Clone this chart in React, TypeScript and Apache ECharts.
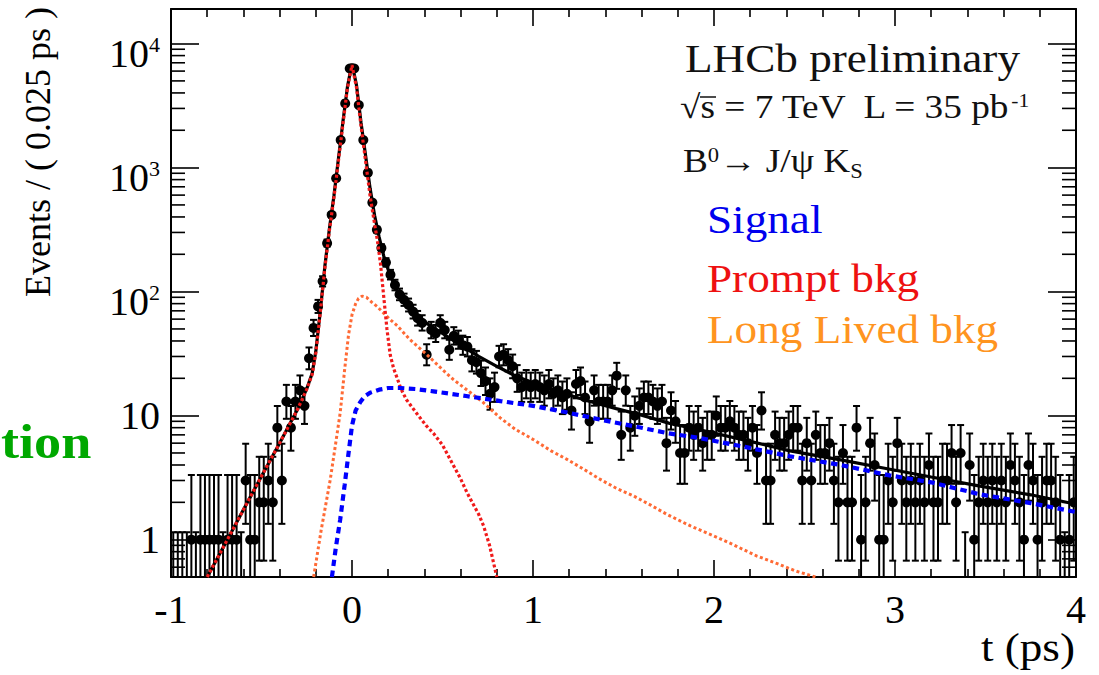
import React, { useEffect, useRef } from "react";
import * as echarts from "echarts";

// ---- data ----
const binStart = -1;
const binWidth = 0.025;
const counts = [
  0, 0, 0, 0, 1, 0, 1, 1, 1, 1, 1, 0, 1, 1, 1, 0, 3, 1, 1, 2,
  2, 3, 2, 8, 3, 13, 8, 13, 16, 12, 29, 51, 76, 121, 246, 416, 820, 1667, 3290, 6290,
  6290, 3190, 1667, 910, 522, 315, 225, 172, 137, 113, 95, 86, 78, 69, 61, 56, 31, 49, 46, 56,
  49, 34, 44, 41, 37, 36, 28, 27, 22, 19, 15, 17, 30, 31, 28, 25, 20, 17, 18, 17,
  18, 17, 16, 18, 15, 16, 14, 15, 11, 18, 19, 14, 9, 16, 13, 13, 13, 16, 21, 7,
  16, 8, 10, 12, 14, 14, 13, 12, 13, 6, 11, 9, 5, 5, 8, 7, 8, 6, 7, 7,
  10, 8, 8, 9, 8, 7, 7, 6, 8, 5, 11, 3, 3, 7, 6, 6, 7, 8, 8, 3,
  6, 3, 7, 5, 5, 6, 3, 2, 5, 2, 2, 8, 1, 2, 6, 4, 1, 1, 3, 2,
  6, 3, 2, 3, 2, 3, 2, 4, 2, 2, 3, 3, 5, 2, 5, 0, 4, 1, 2, 3,
  2, 3, 2, 3, 2, 4, 3, 2, 1, 4, 3, 1, 2, 3, 3, 2, 1, 0, 1, 2,
];

const totalFit: [number, number][] = [
  [-0.8, 0.5], [-0.7, 0.93], [-0.6, 1.74], [-0.5, 3.25], [-0.4, 6.0], [-0.3, 11.3],
  [-0.25, 16.5], [-0.22, 22], [-0.2, 33], [-0.175, 70], [-0.15, 160], [-0.125, 320],
  [-0.1, 590], [-0.075, 1180], [-0.05, 2350], [-0.025, 4500], [0, 6900], [0.025, 4600],
  [0.05, 2300], [0.075, 1250], [0.1, 680], [0.125, 410], [0.15, 275], [0.175, 195],
  [0.2, 150], [0.225, 121], [0.25, 101], [0.3, 78], [0.4, 57], [0.5, 46], [0.6, 37],
  [0.7, 30], [0.8, 25], [0.9, 21], [1.0, 18.4], [1.13, 15.8], [1.3, 13.2], [1.46, 11.4],
  [1.6, 10.1], [1.75, 8.7], [1.92, 7.7], [2.2, 6.2], [2.42, 5.2], [2.7, 4.4], [2.95, 3.75],
  [3.2, 3.2], [3.47, 2.7], [3.75, 2.3], [4.0, 1.93],
];

const promptBkg: [number, number][] = [
  [-0.8, 0.5], [-0.7, 0.93], [-0.6, 1.74], [-0.5, 3.25], [-0.4, 6.0], [-0.3, 11.3],
  [-0.25, 16.3], [-0.22, 21.5], [-0.2, 32], [-0.175, 68], [-0.15, 155], [-0.125, 310],
  [-0.1, 570], [-0.075, 1130], [-0.05, 2250], [-0.025, 4400], [0, 6700], [0.025, 4400],
  [0.05, 2150], [0.075, 1130], [0.1, 590], [0.125, 350], [0.14, 260], [0.157, 170],
  [0.175, 92], [0.193, 50], [0.211, 31], [0.23, 24], [0.25, 20], [0.27, 16.5], [0.3, 13.5],
  [0.36, 10.3], [0.41, 8.3], [0.45, 7.2], [0.5, 5.8], [0.54, 4.5], [0.6, 3.1], [0.635, 2.4],
  [0.7, 1.6], [0.727, 1.29], [0.76, 0.9], [0.8, 0.5],
];

const longLivedBkg: [number, number][] = [
  [-0.212, 0.5], [-0.17, 1.2], [-0.12, 3.06], [-0.09, 6], [-0.065, 10.6], [-0.04, 24],
  [-0.019, 45], [0, 65], [0.02, 80], [0.036, 88], [0.055, 92], [0.08, 90], [0.11, 82],
  [0.138, 76], [0.175, 67], [0.211, 59.5], [0.25, 53], [0.32, 41], [0.414, 31], [0.5, 23.5],
  [0.561, 19.5], [0.65, 15.5], [0.727, 12.7], [0.819, 9.6], [0.9, 7.8], [1.003, 6.4],
  [1.1, 5.2], [1.188, 4.44], [1.28, 3.7], [1.372, 3.06], [1.46, 2.6], [1.556, 2.25],
  [1.65, 1.9], [1.74, 1.6], [1.87, 1.29], [2.0, 1.07], [2.1, 0.92], [2.235, 0.74],
  [2.35, 0.64], [2.45, 0.56], [2.56, 0.5],
];

const signal: [number, number][] = [
  [-0.111, 0.5], [-0.09, 0.85], [-0.065, 1.46], [-0.04, 2.8], [-0.019, 5.0], [0, 8.3],
  [0.02, 11], [0.046, 12.9], [0.07, 14.3], [0.1, 15.3], [0.15, 16.2], [0.2, 16.7],
  [0.27, 16.7], [0.35, 16.4], [0.45, 15.7], [0.63, 14.4], [0.82, 13.1], [1.0, 12.0],
  [1.19, 10.6], [1.37, 9.3], [1.56, 8.2], [1.75, 7.2], [1.92, 6.6], [2.17, 5.6],
  [2.42, 4.7], [2.7, 4.0], [2.97, 3.3], [3.2, 2.9], [3.47, 2.32], [3.75, 1.97], [4.0, 1.67],
];

const xMin = -1;
const xMax = 4;
const yMin = 0.5;
const yMax = 19000;
const yMinorTicks = [
  0.6, 0.7, 0.8, 0.9, 2, 3, 4, 5, 6, 7, 8, 9, 20, 30, 40, 50, 60, 70, 80, 90,
  200, 300, 400, 500, 600, 700, 800, 900, 2000, 3000, 4000, 5000, 6000, 7000, 8000, 9000,
];

const legendLabels = ["Signal", "Prompt bkg", "Long Lived bkg"];
const legendColors = ["#0000ee", "#ee1111", "#ff9420"];

const FONT = "'Liberation Serif', 'Times New Roman', serif";
const SX = 1.13;

// Poisson-style asymmetric interval from the count
function interval(n: number): [number, number] {
  if (n <= 0) return [yMin, 1.148];
  return [n - Math.sqrt(n - 0.25), n + 1 + Math.sqrt(n + 0.75)];
}

function yLabel(v: number): string {
  const e = Math.log10(v);
  const r = Math.round(e);
  if (Math.abs(e - r) > 1e-6) return "";
  if (r === 0) return "1";
  if (r === 1) return "10";
  return "{b|10}{s|" + r + "}";
}

export default function App() {
  const ref = useRef<HTMLDivElement>(null);
  useEffect(() => {
    document.body.style.margin = "0";
    const chart = echarts.init(ref.current!, null, { renderer: "svg" });
    const dataPoints = counts.map((n, i) => {
      const t = binStart + binWidth * (i + 0.5);
      const [lo, hi] = interval(n);
      return [t, n, lo, hi];
    });

    const dataSeries = {
      type: "custom",
      z: 2,
      clip: true,
      silent: true,
      encode: { x: 0, y: 3 },
      data: dataPoints,
      renderItem: (params: any, api: any) => {
        const t = api.value(0);
        const n = api.value(1);
        const lo = api.value(2);
        const hi = api.value(3);
        const top = api.coord([t, hi]);
        const bot = api.coord([t, Math.max(lo, 0.05)]);
        const children: any[] = [
          { type: "line", shape: { x1: top[0], y1: top[1], x2: bot[0], y2: bot[1] }, style: { stroke: "#000", lineWidth: 2 } },
          { type: "line", shape: { x1: top[0] - 3.5, y1: top[1], x2: top[0] + 3.5, y2: top[1] }, style: { stroke: "#000", lineWidth: 2 } },
        ];
        if (n > 0) {
          children.push({ type: "line", shape: { x1: bot[0] - 3.5, y1: bot[1], x2: bot[0] + 3.5, y2: bot[1] }, style: { stroke: "#000", lineWidth: 2 } });
          const c = api.coord([t, n]);
          children.push({ type: "circle", shape: { cx: c[0], cy: c[1], r: 5 }, style: { fill: "#000" } });
        }
        return { type: "group", children };
      },
    };

    const minorTickSeries = {
      type: "custom",
      z: 6,
      clip: false,
      silent: true,
      encode: { x: 0, y: 1 },
      data: yMinorTicks.map((v) => [xMin, v]),
      renderItem: (params: any, api: any) => {
        const v = api.value(1);
        const l = api.coord([xMin, v]);
        const r = api.coord([xMax, v]);
        return {
          type: "group",
          children: [
            { type: "line", shape: { x1: l[0], y1: l[1], x2: l[0] + 14, y2: l[1] }, style: { stroke: "#000", lineWidth: 1.6 } },
            { type: "line", shape: { x1: r[0] - 14, y1: r[1], x2: r[0], y2: r[1] }, style: { stroke: "#000", lineWidth: 1.6 } },
          ],
        };
      },
    };

    const curve = (name: string, data: [number, number][], color: string, width: number, type: any, z: number) => ({
      type: "line",
      name,
      data,
      z,
      clip: true,
      showSymbol: false,
      symbol: "none",
      smooth: false,
      silent: true,
      lineStyle: { color, width, type, cap: "butt" },
    });

    const xAxisCommon = {
      type: "value",
      min: xMin,
      max: xMax,
      interval: 1,
      axisLine: { show: true, onZero: false, lineStyle: { color: "#000", width: 2 } },
      axisTick: { show: true, inside: true, length: 17, lineStyle: { color: "#000", width: 1.6 } },
      minorTick: { show: true, splitNumber: 5, length: 8, lineStyle: { color: "#000", width: 1.6 } },
      splitLine: { show: false },
      minorSplitLine: { show: false },
    };
    const yAxisCommon = {
      type: "log",
      logBase: 10,
      min: yMin,
      max: yMax,
      axisLine: { show: true, onZero: false, lineStyle: { color: "#000", width: 2 } },
      axisTick: { show: true, inside: true, length: 28, lineStyle: { color: "#000", width: 1.6 } },
      splitLine: { show: false },
    };

    const option: any = {
      animation: false,
      backgroundColor: "#ffffff",
      grid: { left: 171, right: 23, top: 9, bottom: 98, containLabel: false },
      xAxis: [
        {
          ...xAxisCommon,
          position: "bottom",
          axisLabel: { show: true, fontFamily: FONT, fontSize: 40, color: "#000", margin: 12 },
        },
        { ...xAxisCommon, position: "top", axisLabel: { show: false } },
      ],
      yAxis: [
        {
          ...yAxisCommon,
          position: "left",
          axisLabel: {
            show: true,
            formatter: yLabel,
            fontFamily: FONT,
            fontSize: 40,
            color: "#000",
            margin: 11,
            showMinLabel: false,
            showMaxLabel: false,
            rich: {
              b: { fontFamily: FONT, fontSize: 40, color: "#000", lineHeight: 40, verticalAlign: "top", padding: [10, 0, 0, 0] },
              s: { fontFamily: FONT, fontSize: 22, color: "#000", lineHeight: 22, verticalAlign: "top", padding: [10, 0, 0, 0] },
            },
          },
        },
        { ...yAxisCommon, position: "right", axisLabel: { show: false } },
      ],
      series: [
        dataSeries,
        curve("Total", totalFit, "#000000", 3.2, "solid", 3),
        curve("Long Lived bkg", longLivedBkg, "#ff6a35", 3, [3, 2.6], 4),
        curve("Prompt bkg", promptBkg, "#f01a1a", 3.2, [3, 2.4], 4),
        curve("Signal", signal, "#0000ff", 4.2, [6.5, 4.5], 5),
        minorTickSeries,
      ],
      graphic: [
        {
          type: "text", x: 38, y: 152, rotation: Math.PI / 2,
          style: { text: "Events / ( 0.025 ps )", font: `36px ${FONT}`, fill: "#000", align: "center", verticalAlign: "middle", textAlign: "center", textVerticalAlign: "middle" },
        },
        {
          type: "text", x: 1075, y: 647, scaleX: SX,
          style: { text: "t (ps)", font: `40px ${FONT}`, fill: "#000", align: "right", verticalAlign: "middle", textAlign: "right", textVerticalAlign: "middle" },
        },
        {
          type: "text", x: 685, y: 58, scaleX: SX,
          style: { text: "LHCb preliminary", font: `40px ${FONT}`, fill: "#111", align: "left", verticalAlign: "middle", textAlign: "left", textVerticalAlign: "middle" },
        },
        {
          type: "text", x: 680, y: 109, scaleX: SX,
          style: {
            text: "{n|√s = 7 TeV  L = 35 pb}{sup|-1}",
            fill: "#111", align: "left", verticalAlign: "middle", textAlign: "left", textVerticalAlign: "middle",
            rich: {
              n: { fontFamily: FONT, fontSize: 33, lineHeight: 36, verticalAlign: "top", fill: "#111" },
              sup: { fontFamily: FONT, fontSize: 19, lineHeight: 20, verticalAlign: "top", fill: "#111" },
            },
          },
        },
        { type: "line", shape: { x1: 700, y1: 97, x2: 716, y2: 97 }, style: { stroke: "#111", lineWidth: 1.5 } },
        {
          type: "text", x: 683, y: 163, scaleX: SX,
          style: {
            text: "{n|B}{sup|0}{n|→ J/ψ K}{sub|S}",
            fill: "#111", align: "left", verticalAlign: "middle", textAlign: "left", textVerticalAlign: "middle",
            rich: {
              n: { fontFamily: FONT, fontSize: 33, lineHeight: 36, verticalAlign: "top", fill: "#111" },
              sup: { fontFamily: FONT, fontSize: 20, lineHeight: 22, verticalAlign: "top", fill: "#111" },
              sub: { fontFamily: FONT, fontSize: 20, lineHeight: 22, verticalAlign: "bottom", padding: [34, 0, 0, 0], fill: "#111" },
            },
          },
        },
        ...legendLabels.map((label, i) => ({
          type: "text", x: 707, y: [219, 278, 329][i], scaleX: SX,
          style: { text: label, font: `40px ${FONT}`, fill: legendColors[i], align: "left", verticalAlign: "middle", textAlign: "left", textVerticalAlign: "middle" },
        })),
        {
          type: "text", x: 1, y: 442, scaleX: SX,
          style: { text: "tion", font: `bold 48px ${FONT}`, fill: "#00a800", align: "left", verticalAlign: "middle", textAlign: "left", textVerticalAlign: "middle" },
        },
      ],
    };
    chart.setOption(option);
    return () => chart.dispose();
  }, []);
  return (
    <div
      ref={ref}
      style={{ position: "absolute", left: 0, top: 0, width: 1099, height: 675, background: "#fff" }}
    />
  );
}
